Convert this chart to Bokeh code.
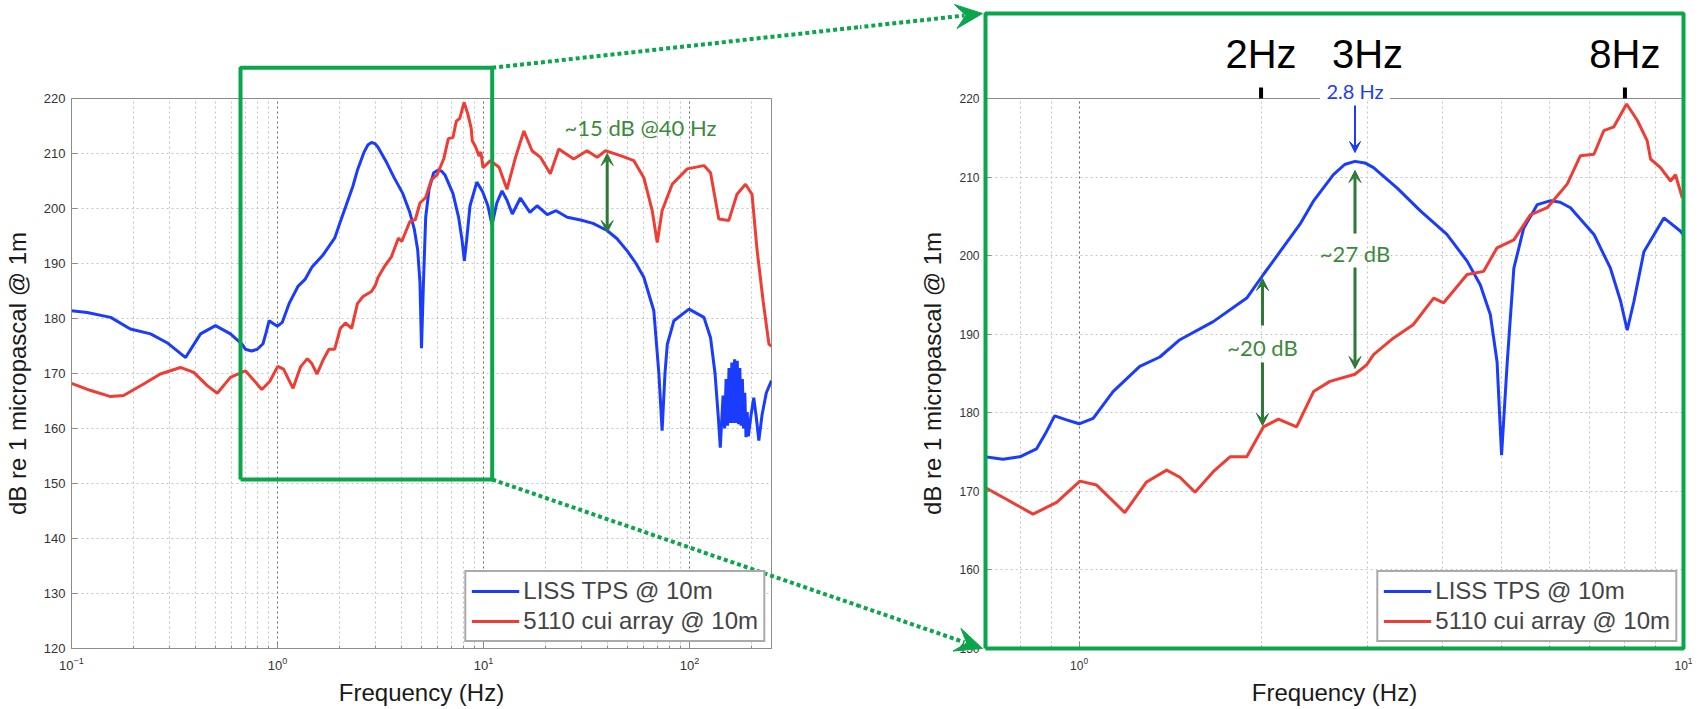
import math
from bokeh.plotting import figure
from bokeh.layouts import row
from bokeh.models import (Range1d, FixedTicker, SingleIntervalTicker, Legend, LegendItem,
                          Label, Arrow, VeeHead)
from bokeh.core.properties import value
from bokeh.embed import file_html
from bokeh.resources import INLINE

# ---------------- data ----------------
liss_freq = [0.100, 0.119, 0.155, 0.193, 0.242, 0.291, 0.358, 0.423, 0.500, 0.591,
             0.674, 0.698, 0.748, 0.798, 0.850, 0.883, 0.911, 0.953, 1.000, 1.055,
             1.138, 1.260, 1.360, 1.468, 1.667, 1.894, 2.018, 2.150, 2.320, 2.440,
             2.635, 2.750, 2.860, 2.970, 3.070, 3.360, 3.670, 4.060, 4.385, 4.610,
             4.790, 4.915, 5.000, 5.110, 5.240, 5.440, 5.730, 6.030, 6.250, 6.500,
             7.110, 7.570, 7.870, 8.070, 8.280, 8.600, 9.280, 9.890, 10.50, 11.00,
             11.60, 12.30, 13.00, 13.80, 15.10, 16.80, 18.20, 20.40, 22.50, 25.50,
             29.60, 34.00, 39.80, 44.50, 49.80, 55.00, 60.00, 67.10, 71.00, 73.60,
             76.00, 78.00, 84.00, 99.40, 117.5, 126.5, 133.0, 138.0, 141.0, 145.5,
             148.0, 150.5, 153.0, 155.5, 158.0, 160.5, 163.0, 165.5, 168.0, 170.5,
             173.0, 175.5, 178.0, 180.5, 183.0, 185.5, 188.0, 190.5, 193.0, 199.0,
             205.0, 211.0, 217.0, 225.0, 236.0, 250.0]
liss_db = [181.4, 181.1, 180.2, 178.1, 177.2, 175.6, 172.9, 177.2, 178.7, 177.2,
           175.3, 174.4, 174.1, 174.4, 175.4, 177.6, 179.6, 179.1, 178.6, 179.3,
           182.7, 185.9, 187.1, 189.3, 191.6, 194.6, 197.6, 200.5, 204.0, 206.9,
           210.3, 211.6, 212.0, 211.8, 211.2, 208.6, 205.7, 202.7, 199.3, 196.3,
           192.5, 186.5, 174.6, 186.5, 198.4, 203.5, 206.5, 207.0, 206.8, 206.1,
           202.7, 198.4, 194.2, 190.5, 194.2, 200.5, 204.8, 203.1, 200.5, 197.0,
           201.0, 203.2, 201.5, 199.0, 201.9, 199.3, 200.5, 198.9, 199.6, 198.4,
           197.9, 197.3, 196.0, 194.5, 192.3, 190.0, 187.5, 181.4, 170.0, 159.6,
           170.0, 175.3, 179.6, 181.7, 180.2, 176.5, 170.0, 162.0, 156.5, 166.0,
           160.0, 169.0, 160.5, 171.0, 161.0, 172.0, 161.0, 172.6, 161.0, 172.3,
           160.8, 171.0, 160.5, 169.0, 160.0, 166.5, 158.4, 163.0, 158.6, 162.5,
           165.6, 162.0, 157.8, 162.5, 166.5, 168.7]

cui_freq = [0.100, 0.124, 0.155, 0.179, 0.224, 0.270, 0.338, 0.392, 0.456, 0.510,
            0.591, 0.698, 0.758, 0.839, 0.918, 1.003, 1.069, 1.190, 1.293, 1.396,
            1.468, 1.555, 1.667, 1.777, 1.894, 2.018, 2.137, 2.290, 2.443, 2.600,
            2.860, 2.990, 3.070, 3.310, 3.570, 3.860, 4.010, 4.385, 4.670, 4.915,
            5.240, 5.580, 5.950, 6.420, 6.750, 7.110, 7.380, 7.670, 8.050, 8.390,
            8.710, 8.820, 9.160, 9.520, 9.700, 9.950, 10.80, 11.90, 13.00, 14.30,
            15.70, 17.20, 18.90, 21.10, 23.20, 27.40, 31.80, 35.60, 39.10, 46.20,
            53.70, 60.00, 65.90, 69.70, 73.60, 82.40, 97.50, 117.5, 126.5, 138.7,
            155.0, 170.0, 187.0, 201.0, 213.0, 228.0, 243.0, 250.0]
cui_db = [168.2, 166.9, 165.8, 166.0, 168.1, 169.9, 171.1, 170.2, 167.8, 166.4,
          169.3, 170.5, 169.0, 167.1, 168.6, 171.3, 170.8, 167.3, 171.2, 172.7,
          171.8, 169.9, 172.5, 174.4, 174.4, 178.2, 179.2, 178.2, 182.7, 184.0,
          184.9, 186.1, 187.4, 189.5, 191.2, 194.6, 194.0, 197.6, 198.0, 201.0,
          202.0, 205.2, 206.1, 209.1, 212.7, 212.9, 215.9, 216.4, 219.3, 217.2,
          214.6, 212.3, 211.2, 209.5, 210.3, 207.4, 208.7, 207.5, 203.5, 209.3,
          214.1, 210.5, 209.3, 206.3, 210.8, 209.0, 210.5, 209.3, 210.5, 209.6,
          208.7, 205.6, 199.6, 193.8, 199.6, 204.4, 207.2, 207.8, 206.5, 198.1,
          197.8, 202.6, 204.4, 202.6, 192.3, 183.0, 175.3, 175.0]

series_labels = ["LISS TPS @ 10m", "5110 cui array @ 10m"]
x_label = "Frequency (Hz)"
y_label = "dB re 1 micropascal @ 1m"
main_x_ticks = [0.1, 1, 10, 100]
zoom_x_ticks = [1, 10]
marker_labels = ["2Hz", "3Hz", "8Hz"]
marker_freqs = [2, 3, 8]
marker_tick_freqs = [2, 8]
peak_text = "2.8 Hz"
gap_texts = ["~20 dB", "~27 dB"]
wide_gap_text = "~15 dB @40 Hz"

# ---------------- styling / geometry ----------------
BLUE = "#1a3cff"
RED = "#f03c32"
GREEN = "#0aa64b"
DKGREEN = "#2c7a35"
TXTGREEN = "#3b8a3b"
AXC = "#8c8c8c"

W_LEFT, W_RIGHT, H = 860, 840, 709
TOP, BOTTOM, FRAME_H = 98, 61, 550
L_FL, L_FW = 71, 700          # left frame: page x of left edge, width
R_FL, R_FW = 985, 698         # right frame (page coords)
L_XR, L_YR = (0.1, 250.0), (120, 220)
R_XR, R_YR = (0.7, 10.0), (150, 220)


def px_to_data(px, py, fl, fw, xr, yr):
    a, b = math.log10(xr[0]), math.log10(xr[1])
    x = 10 ** (a + (px - fl) / fw * (b - a))
    y = yr[1] - (py - TOP) / FRAME_H * (yr[1] - yr[0])
    return x, y


def Lp(px, py):
    return px_to_data(px, py, L_FL, L_FW, L_XR, L_YR)


def Rp(px, py):
    return px_to_data(px, py, R_FL, R_FW, R_XR, R_YR)


def make_fig(width, bl, br, xr, yr, xticks, xminor, tick_size):
    p = figure(width=width, height=H, x_axis_type="log",
               x_range=Range1d(*xr), y_range=Range1d(*yr),
               min_border_left=bl, min_border_right=br,
               min_border_top=TOP, min_border_bottom=BOTTOM,
               output_backend="svg", toolbar_location=None,
               background_fill_color="white", border_fill_color="white")
    p.xaxis.ticker = FixedTicker(ticks=xticks, minor_ticks=xminor)
    p.yaxis.ticker = SingleIntervalTicker(interval=10, num_minor_ticks=0)
    for ax in (p.xaxis[0], p.yaxis[0]):
        ax.axis_line_color = AXC
        ax.major_tick_line_color = AXC
        ax.minor_tick_line_color = AXC
        ax.major_tick_in = 6
        ax.major_tick_out = 0
        ax.minor_tick_in = 3
        ax.minor_tick_out = 0
        ax.major_label_text_font = "Liberation Sans"
        ax.major_label_text_font_size = tick_size
        ax.major_label_text_color = "#333333"
        ax.axis_label_text_font = "Liberation Sans"
        ax.axis_label_text_font_size = "24px"
        ax.axis_label_text_font_style = "normal"
        ax.axis_label_text_color = "#1a1a1a"
    p.xaxis.axis_label = x_label
    p.yaxis.axis_label = y_label
    p.yaxis.major_label_standoff = 6
    p.yaxis.axis_label_standoff = 10
    p.xaxis.major_label_standoff = 8
    p.xaxis.axis_label_standoff = 6
    p.outline_line_color = AXC
    p.xgrid.grid_line_color = "#666666"
    p.xgrid.grid_line_dash = "2 3"
    p.xgrid.minor_grid_line_color = "#c4c4c4"
    p.xgrid.minor_grid_line_dash = "2 3"
    p.ygrid.grid_line_color = "#c4c4c4"
    p.ygrid.grid_line_dash = "2 3"

    r1 = p.line(liss_freq, liss_db, line_color=BLUE, line_width=3)
    r2 = p.line(cui_freq, cui_db, line_color=RED, line_width=3)
    leg = Legend(items=[LegendItem(label=series_labels[0], renderers=[r1]),
                        LegendItem(label=series_labels[1], renderers=[r2])],
                 location="bottom_right", margin=6, padding=5, spacing=2,
                 glyph_width=48, glyph_height=26, label_standoff=4,
                 label_text_font="Liberation Sans", label_text_font_size="24px",
                 border_line_color="#555555", border_line_width=2,
                 background_fill_color="white", background_fill_alpha=1)
    p.add_layout(leg)
    return p


left_minor = [k * 10 ** e for e in (-1, 0, 1) for k in range(2, 10)] + [200]
right_minor = [0.8, 0.9] + [k for k in range(2, 10)]

p1 = make_fig(W_LEFT, L_FL, W_LEFT - L_FL - L_FW, L_XR, L_YR, main_x_ticks, left_minor, "13px")
p2 = make_fig(W_RIGHT, R_FL - W_LEFT, W_RIGHT - (R_FL - W_LEFT) - R_FW, R_XR, R_YR,
              zoom_x_ticks, right_minor, "12px")

# ---------------- helpers for overlay (unclipped) marks ----------------
def ov_line(p, pts, color=GREEN, width=4, dash="solid"):
    p.line([a for a, b in pts], [b for a, b in pts], line_color=color, line_width=width,
           line_dash=dash, level="overlay")


def ov_text(p, x, y, txt, font, size, color):
    p.text(x=[x], y=[y], text=[txt], text_font=value(font), text_font_size=value(size),
           text_color=color, text_align="center", text_baseline="middle", level="overlay")


# ---------------- left annotations ----------------
BOX = (240.0, 67.3, 491.7, 479.0)   # page px: left, top, right, bottom of zoom box
bx0, by1 = Lp(BOX[0], BOX[1])
bx1, by0 = Lp(BOX[2], BOX[3])
ov_line(p1, [(bx0, by0), (bx0, by1), (bx1, by1), (bx1, by0), (bx0, by0)])

ax, ay0 = Lp(606.7, 153)
_, ay1 = Lp(606.7, 232)
p1.add_layout(Arrow(start=VeeHead(size=12, fill_color=DKGREEN, line_color=DKGREEN),
                    end=VeeHead(size=12, fill_color=DKGREEN, line_color=DKGREEN),
                    x_start=ax, y_start=ay1, x_end=ax, y_end=ay0,
                    line_color=DKGREEN, line_width=3))
tx, ty = Lp(640, 127)
p1.add_layout(Label(x=tx, y=ty, text=wide_gap_text, text_align="center", text_baseline="middle",
                    text_font="Lato", text_font_size="22px", text_color=TXTGREEN))

# ---------------- connectors ----------------
TOP_P0, TOP_P1 = (BOX[2], BOX[1]), (982.0, 13.0)
BOT_P0, BOT_P1 = (BOX[2], BOX[3]), (982.0, 648.0)


def on_line(p0, p1, px):
    t = (px - p0[0]) / (p1[0] - p0[0])
    return px, p0[1] + t * (p1[1] - p0[1])


for P0, P1 in ((TOP_P0, TOP_P1), (BOT_P0, BOT_P1)):
    ov_line(p1, [Lp(*P0), Lp(*on_line(P0, P1, W_LEFT + 10))], dash="4 3")
    ov_line(p2, [Rp(*on_line(P0, P1, W_LEFT - 10)), Rp(*on_line(P0, P1, P1[0] - 18))], dash="4 3")
    # vee arrow head, built in page pixels then mapped to data
    dx, dy = P1[0] - P0[0], P1[1] - P0[1]
    n = math.hypot(dx, dy)
    ux, uy = dx / n, dy / n
    nx, ny = -uy, ux
    Lh, Wh = 27.0, 24.0
    tip = P1
    c1 = (tip[0] - Lh * ux + Wh / 2 * nx, tip[1] - Lh * uy + Wh / 2 * ny)
    notch = (tip[0] - 0.62 * Lh * ux, tip[1] - 0.62 * Lh * uy)
    c2 = (tip[0] - Lh * ux - Wh / 2 * nx, tip[1] - Lh * uy - Wh / 2 * ny)
    head = [Rp(*q) for q in (tip, c1, notch, c2)]
    p2.patch([a for a, b in head], [b for a, b in head], fill_color=GREEN, line_color=GREEN,
             line_width=1, level="overlay")

# ---------------- right annotations ----------------
_, gtop = Rp(R_FL, 13)
ov_line(p2, [(R_XR[0], R_YR[0]), (R_XR[0], gtop), (R_XR[1], gtop), (R_XR[1], R_YR[0]),
             (R_XR[0], R_YR[0])])

_, tk_top = Rp(R_FL, 87)
for f in marker_tick_freqs:
    ov_line(p2, [(f, R_YR[1]), (f, tk_top)], color="black", width=4)
_, my = Rp(R_FL, 53)
for f, t in zip(marker_freqs, marker_labels):
    ov_text(p2, f, my, t, "Liberation Sans", "40px", "black")

pk_x, pk_y = Rp(1354.5, 90)
bl_x, bl_y = Rp(1354.5 - 35, 80)
br_x, br_y = Rp(1354.5 + 35, 100)
p2.quad(left=[bl_x], right=[br_x], top=[bl_y], bottom=[br_y], fill_color="white",
        line_alpha=0, level="overlay")
ov_text(p2, pk_x, pk_y, peak_text, "Lato", "20px", BLUE)
_, a0 = Rp(1354.5, 105)
_, a1 = Rp(1354.5, 152)
p2.add_layout(Arrow(end=VeeHead(size=11, fill_color=BLUE, line_color=BLUE),
                    x_start=pk_x, y_start=a0, x_end=pk_x, y_end=a1, line_color=BLUE, line_width=2))

# gap arrows: (page x, up tail, up tip, text y, down tail, down tip)
gap_geo = [(1262, 325, 278, 347, 362, 425), (1354.5, 233, 170, 253, 267, 368)]
for (gx, ut, uh, ty_, dt, dh), txt in zip(gap_geo, gap_texts):
    x, y_ut = Rp(gx, ut)
    _, y_uh = Rp(gx, uh)
    _, y_t = Rp(gx, ty_)
    _, y_dt = Rp(gx, dt)
    _, y_dh = Rp(gx, dh)
    for s, e in ((y_ut, y_uh), (y_dt, y_dh)):
        p2.add_layout(Arrow(end=VeeHead(size=12, fill_color=DKGREEN, line_color=DKGREEN),
                            x_start=x, y_start=s, x_end=x, y_end=e,
                            line_color=DKGREEN, line_width=3))
    p2.add_layout(Label(x=x, y=y_t, text=txt, text_align="center", text_baseline="middle",
                        text_font="Lato", text_font_size="22px", text_color=TXTGREEN))

layout = row(p1, p2, spacing=0)
open("out.html", "w").write(file_html(layout, INLINE))
